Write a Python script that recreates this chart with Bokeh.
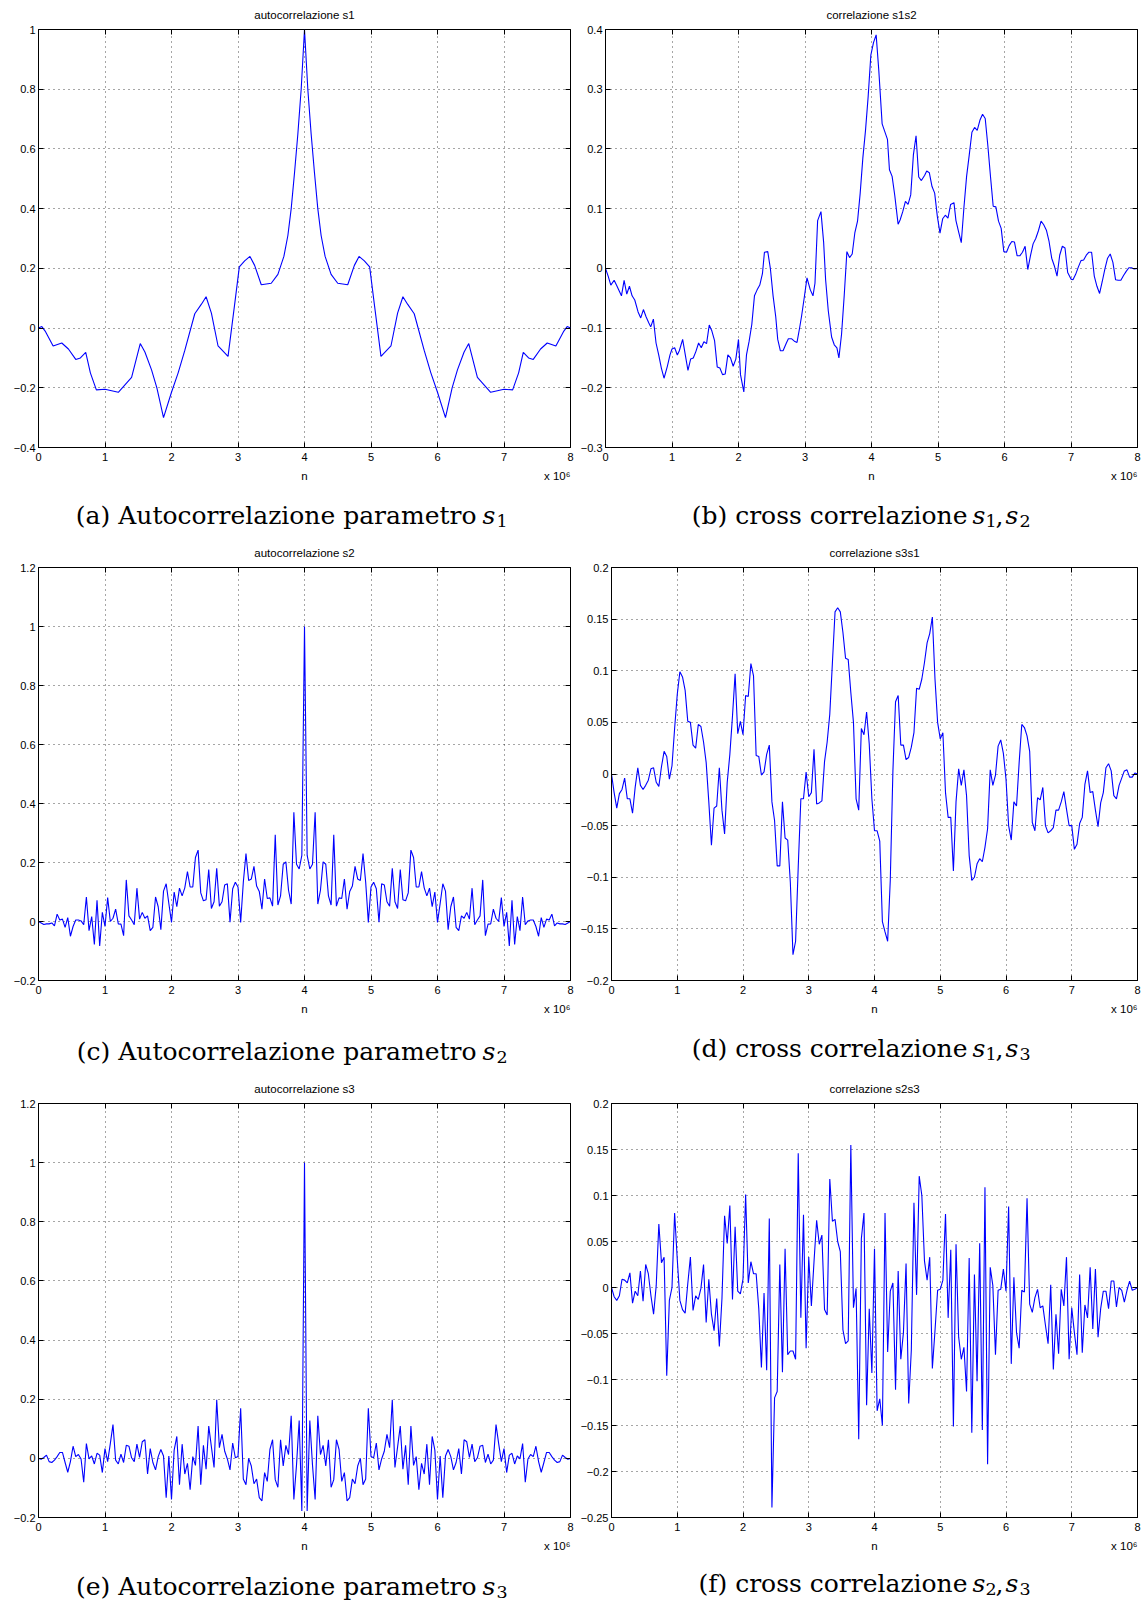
import numpy as np
from bokeh.plotting import figure
from bokeh.models import Range1d, FixedTicker, CustomJSTickFormatter, LinearAxis
from bokeh.layouts import column, row
from bokeh.embed import file_html
from bokeh.resources import INLINE
from bokeh.core.properties import value

# ---------------- data (n in units of 10^6) ----------------
x_ticks = [0, 1, 2, 3, 4, 5, 6, 7, 8]

# (a) autocorrelazione s1
a_n = [0.0, 0.05, 0.1, 0.22, 0.35, 0.45, 0.56, 0.63, 0.71, 0.78, 0.87, 1.0, 1.1, 1.2, 1.3,
       1.4, 1.53, 1.6, 1.7, 1.78, 1.88, 2.0, 2.1, 2.2, 2.35, 2.45, 2.52, 2.6, 2.7, 2.85, 2.95,
       3.02, 3.1, 3.18, 3.25, 3.35, 3.5, 3.6, 3.69, 3.75, 3.8, 3.85, 3.9, 3.95, 4.0,
       4.05, 4.1, 4.15, 4.2, 4.25, 4.31, 4.4, 4.5, 4.65, 4.75, 4.82, 4.9, 4.98, 5.05, 5.15,
       5.3, 5.4, 5.48, 5.55, 5.65, 5.8, 5.9, 6.0, 6.12, 6.22, 6.3, 6.4, 6.47, 6.6, 6.7, 6.8,
       6.9, 7.0, 7.13, 7.22, 7.29, 7.37, 7.44, 7.55, 7.65, 7.78, 7.9, 7.95, 8.0]
a_v = [0.0, 0.005, -0.01, -0.06, -0.05, -0.07, -0.105, -0.1, -0.081, -0.15, -0.207, -0.205,
       -0.21, -0.215, -0.19, -0.165, -0.052, -0.08, -0.14, -0.2, -0.30, -0.215, -0.15, -0.075,
       0.048, 0.08, 0.105, 0.05, -0.06, -0.095, 0.08, 0.205, 0.225, 0.24, 0.21, 0.145, 0.15,
       0.18, 0.24, 0.31, 0.40, 0.52, 0.65, 0.80, 1.0,
       0.80, 0.65, 0.52, 0.40, 0.31, 0.24, 0.18, 0.15, 0.145, 0.21, 0.24, 0.225, 0.205, 0.08,
       -0.095, -0.06, 0.05, 0.105, 0.08, 0.048, -0.075, -0.15, -0.215, -0.30, -0.2, -0.14,
       -0.08, -0.052, -0.165, -0.19, -0.215, -0.21, -0.205, -0.207, -0.15, -0.081, -0.1,
       -0.105, -0.07, -0.05, -0.06, -0.01, 0.005, 0.0]

# (b) correlazione s1s2
b_n = [0.0, 0.04, 0.08, 0.13, 0.17, 0.24, 0.28, 0.32, 0.36, 0.4,
       0.44, 0.49, 0.53, 0.57, 0.61, 0.65, 0.68, 0.72, 0.76, 0.8,
       0.84, 0.88, 0.93, 0.97, 1.0, 1.04, 1.08, 1.11, 1.16, 1.2,
       1.24, 1.28, 1.32, 1.36, 1.4, 1.44, 1.48, 1.52, 1.56, 1.6,
       1.64, 1.68, 1.72, 1.76, 1.8, 1.84, 1.88, 1.92, 1.96, 2.0,
       2.03, 2.08, 2.12, 2.16, 2.2, 2.24, 2.28, 2.32, 2.36, 2.39,
       2.44, 2.48, 2.52, 2.56, 2.59, 2.63, 2.67, 2.72, 2.75, 2.8,
       2.84, 2.88, 2.92, 2.95, 2.99, 3.03, 3.08, 3.12, 3.15, 3.19,
       3.24, 3.28, 3.31, 3.35, 3.4, 3.44, 3.48, 3.51, 3.55, 3.59,
       3.63, 3.67, 3.71, 3.75, 3.79, 3.83, 3.87, 3.91, 3.95, 3.99,
       4.03, 4.07, 4.11, 4.16, 4.2, 4.24, 4.27, 4.31, 4.35, 4.4,
       4.43, 4.47, 4.51, 4.55, 4.59, 4.63, 4.67, 4.71, 4.75, 4.8,
       4.83, 4.87, 4.91, 4.95, 4.99, 5.03, 5.07, 5.11, 5.15, 5.19,
       5.24, 5.27, 5.31, 5.35, 5.39, 5.43, 5.47, 5.51, 5.55, 5.59,
       5.63, 5.67, 5.71, 5.75, 5.79, 5.83, 5.87, 5.91, 5.95, 5.99,
       6.03, 6.07, 6.11, 6.15, 6.19, 6.23, 6.27, 6.31, 6.35, 6.39,
       6.43, 6.47, 6.51, 6.55, 6.59, 6.63, 6.67, 6.71, 6.75, 6.79,
       6.83, 6.87, 6.91, 6.95, 7.0, 7.03, 7.07, 7.11, 7.15, 7.19,
       7.23, 7.27, 7.31, 7.35, 7.39, 7.43, 7.47, 7.51, 7.55, 7.59,
       7.63, 7.67, 7.71, 7.75, 7.79, 7.83, 7.87, 7.91, 7.95, 8.0]
b_v = [0.0, -0.013, -0.028, -0.02, -0.029, -0.046, -0.02, -0.043, -0.03, -0.046,
       -0.053, -0.073, -0.083, -0.069, -0.081, -0.091, -0.098, -0.085, -0.125, -0.145,
       -0.167, -0.184, -0.164, -0.145, -0.135, -0.133, -0.145, -0.138, -0.119, -0.145,
       -0.171, -0.152, -0.15, -0.139, -0.125, -0.133, -0.123, -0.126, -0.095, -0.105,
       -0.121, -0.165, -0.167, -0.178, -0.177, -0.145, -0.15, -0.164, -0.152, -0.119,
       -0.178, -0.207, -0.145, -0.122, -0.094, -0.046, -0.036, -0.028, -0.009, 0.027,
       0.028, -0.001, -0.046, -0.081, -0.119, -0.138, -0.138, -0.125, -0.118, -0.118,
       -0.122, -0.124, -0.099, -0.079, -0.048, -0.016, -0.036, -0.046, -0.025, 0.08,
       0.095, 0.044, -0.019, -0.071, -0.115, -0.128, -0.133, -0.15, -0.11, -0.045,
       0.028, 0.018, 0.024, 0.06, 0.079, 0.126, 0.185, 0.231, 0.288, 0.357,
       0.378, 0.391, 0.331, 0.242, 0.229, 0.216, 0.165, 0.154, 0.122, 0.074,
       0.081, 0.095, 0.112, 0.107, 0.123, 0.19, 0.222, 0.153, 0.147, 0.156,
       0.163, 0.16, 0.137, 0.126, 0.087, 0.059, 0.083, 0.089, 0.084, 0.107,
       0.11, 0.08, 0.061, 0.043, 0.102, 0.154, 0.19, 0.228, 0.236, 0.231,
       0.248, 0.258, 0.251, 0.205, 0.153, 0.104, 0.103, 0.079, 0.067, 0.028,
       0.027, 0.038, 0.045, 0.044, 0.021, 0.021, 0.027, 0.037, -0.002, 0.021,
       0.041, 0.05, 0.063, 0.079, 0.073, 0.064, 0.045, 0.017, 0.004, -0.013,
       0.022, 0.037, 0.034, -0.007, -0.018, -0.019, -0.01, 0.002, 0.013, 0.014,
       0.022, 0.027, 0.027, -0.013, -0.03, -0.042, -0.022, -0.001, 0.017, 0.024,
       0.01, -0.019, -0.02, -0.02, -0.012, -0.005, 0.001, 0.001, -0.001, 0.0]

# (c) autocorrelazione s2 (uniform lag grid, 201 samples over 0..8)
c_v = [0.0, -0.005, -0.01, -0.008, -0.008, -0.005, -0.015, 0.025, 0.005, 0.008,
       -0.02, 0.013, -0.05, -0.017, 0.005, 0.005, 0.002, -0.011, 0.083, -0.031,
       0.017, -0.078, 0.072, -0.083, 0.031, -0.017, 0.081, 0.0, 0.011, 0.042,
       -0.008, -0.009, -0.048, 0.141, 0.019, 0.005, -0.011, 0.113, 0.008, 0.031,
       0.011, 0.019, -0.031, -0.02, 0.083, 0.05, -0.028, 0.103, 0.128, 0.061,
       -0.003, 0.1, 0.05, 0.113, 0.087, 0.114, 0.169, 0.117, 0.117, 0.217,
       0.242, 0.097, 0.07, 0.074, 0.176, 0.044, 0.067, 0.18, 0.052, 0.067,
       0.124, 0.128, -0.002, 0.111, 0.133, 0.117, -0.003, 0.133, 0.23, 0.139,
       0.144, 0.187, 0.12, 0.102, 0.042, 0.144, 0.078, 0.08, 0.052, 0.294,
       0.056, 0.087, 0.194, 0.202, 0.106, 0.059, 0.37, 0.194, 0.178, 0.224,
       1.0,
       0.224, 0.178, 0.194, 0.37, 0.059, 0.106, 0.202, 0.194, 0.087, 0.056,
       0.294, 0.052, 0.08, 0.078, 0.144, 0.042, 0.102, 0.12, 0.187, 0.144,
       0.139, 0.23, 0.133, -0.003, 0.117, 0.133, 0.111, -0.002, 0.128, 0.124,
       0.067, 0.052, 0.18, 0.067, 0.044, 0.176, 0.074, 0.07, 0.097, 0.242,
       0.217, 0.117, 0.117, 0.169, 0.114, 0.087, 0.113, 0.05, 0.1, -0.003,
       0.061, 0.128, 0.103, -0.028, 0.05, 0.083, -0.02, -0.031, 0.019, 0.011,
       0.031, 0.008, 0.113, -0.011, 0.005, 0.019, 0.141, -0.048, -0.009, -0.008,
       0.042, 0.011, 0.0, 0.081, -0.017, 0.031, -0.083, 0.072, -0.078, 0.017,
       -0.031, 0.083, -0.011, 0.002, 0.005, 0.005, -0.017, -0.05, 0.013, -0.02,
       0.008, 0.005, 0.025, -0.015, -0.005, -0.008, -0.008, -0.01, -0.005, 0.0]

# (d) correlazione s3s1
d_v = [0.0, -0.018, -0.033, -0.019, -0.015, -0.004, -0.024, -0.024, -0.038, -0.013,
       0.006, -0.011, -0.015, -0.011, -0.006, 0.005, 0.006, -0.008, -0.012, 0.007,
       0.022, 0.017, -0.005, 0.008, 0.044, 0.077, 0.099, 0.094, 0.081, 0.051,
       0.05, 0.028, 0.025, 0.048, 0.046, 0.031, 0.011, -0.027, -0.069, -0.033,
       -0.031, 0.006, -0.035, -0.058, -0.008, 0.019, 0.056, 0.097, 0.039, 0.051,
       0.038, 0.076, 0.075, 0.107, 0.095, 0.018, 0.017, -0.001, 0.002, 0.019,
       0.028, -0.027, -0.045, -0.089, -0.089, -0.027, -0.062, -0.064, -0.105, -0.175,
       -0.162, -0.09, -0.024, -0.024, 0.002, -0.022, -0.018, 0.024, -0.029, -0.028,
       -0.026, 0.012, 0.031, 0.058, 0.108, 0.157, 0.161, 0.157, 0.137, 0.112,
       0.111, 0.079, 0.05, -0.024, -0.035, 0.044, 0.038, 0.06, 0.029, -0.024,
       -0.055,
       -0.055, -0.065, -0.143, -0.153, -0.162, -0.103, 0.003, 0.07, 0.076, 0.028,
       0.028, 0.014, 0.016, 0.026, 0.04, 0.083, 0.082, 0.092, 0.108, 0.127,
       0.136, 0.152, 0.092, 0.05, 0.034, 0.04, -0.018, -0.042, -0.042, -0.094,
       -0.027, 0.005, -0.011, 0.004, -0.021, -0.079, -0.103, -0.1, -0.087, -0.082,
       -0.085, -0.071, -0.053, 0.004, -0.011, -0.001, 0.027, 0.033, 0.02, -0.005,
       -0.05, -0.064, -0.027, -0.031, 0.011, 0.048, 0.045, 0.037, 0.022, -0.047,
       -0.055, -0.023, -0.025, -0.013, -0.05, -0.057, -0.055, -0.052, -0.035, -0.035,
       -0.027, -0.017, -0.034, -0.05, -0.05, -0.073, -0.068, -0.048, -0.042, -0.01,
       0.003, -0.018, -0.017, -0.035, -0.051, -0.028, -0.018, 0.006, 0.01, 0.003,
       -0.021, -0.024, -0.011, -0.004, 0.003, 0.004, -0.003, -0.003, 0.001, 0.0]

# (e) autocorrelazione s3
e_v = [0.0, -0.003, 0.003, 0.011, -0.011, -0.014, -0.006, 0.006, 0.02, 0.02,
       -0.014, -0.047, -0.011, 0.041, 0.006, 0.013, -0.002, -0.081, 0.05, -0.002,
       0.008, -0.019, 0.017, 0.011, -0.048, 0.033, -0.011, 0.05, 0.114, -0.006,
       -0.019, 0.014, -0.014, 0.044, 0.041, 0.002, -0.011, 0.048, 0.003, 0.056,
       0.063, -0.053, 0.033, -0.014, -0.039, 0.006, 0.03, 0.008, -0.133, 0.008,
       -0.139, 0.028, 0.074, -0.089, 0.048, -0.053, -0.017, -0.106, 0.006, -0.024,
       0.109, -0.089, 0.044, -0.037, 0.109, 0.039, -0.031, 0.198, 0.036, 0.081,
       0.024, -0.002, -0.039, 0.052, 0.002, 0.006, 0.169, -0.07, -0.089, 0.0,
       -0.026, -0.086, -0.07, -0.133, -0.144, -0.048, -0.078, 0.03, 0.063, -0.072,
       -0.098, 0.063, -0.026, 0.044, 0.013, 0.144, -0.139, -0.022, 0.128, -0.178,
       1.0,
       -0.178, 0.128, -0.022, -0.139, 0.144, 0.013, 0.044, -0.026, 0.063, -0.098,
       -0.072, 0.063, 0.03, -0.078, -0.048, -0.144, -0.133, -0.07, -0.086, -0.026,
       0.0, -0.089, -0.07, 0.169, 0.006, 0.002, 0.052, -0.039, -0.002, 0.024,
       0.081, 0.036, 0.198, -0.031, 0.039, 0.109, -0.037, 0.044, -0.089, 0.109,
       -0.024, 0.006, -0.106, -0.017, -0.053, 0.048, -0.089, 0.074, 0.028, -0.139,
       0.008, -0.133, 0.008, 0.03, 0.006, -0.039, -0.014, 0.033, -0.053, 0.063,
       0.056, 0.003, 0.048, -0.011, 0.002, 0.041, 0.044, -0.014, 0.014, -0.019,
       -0.006, 0.114, 0.05, -0.011, 0.033, -0.048, 0.011, 0.017, -0.019, 0.008,
       -0.002, 0.05, -0.081, -0.002, 0.013, 0.006, 0.041, -0.011, -0.047, -0.014,
       0.02, 0.02, 0.006, -0.006, -0.014, -0.011, 0.011, 0.003, -0.003, 0.0]

# (f) correlazione s2s3
f_v = [0.0, -0.01, -0.014, -0.009, 0.009, 0.008, 0.005, 0.016, -0.017, -0.004,
       -0.009, 0.018, -0.015, 0.025, 0.015, -0.009, -0.029, 0.002, 0.069, 0.027,
       0.033, -0.096, -0.014, 0.0, 0.081, 0.031, -0.014, -0.024, -0.028, 0.004,
       0.033, -0.025, -0.009, -0.013, -0.001, 0.025, -0.038, 0.009, -0.029, -0.047,
       -0.012, -0.064, -0.012, 0.078, 0.048, 0.089, -0.013, 0.066, -0.004, -0.007,
       0.009, 0.101, 0.005, 0.028, 0.015, 0.015, -0.023, -0.087, -0.006, -0.09,
       0.075, -0.239, -0.12, -0.113, 0.025, -0.092, 0.042, -0.073, -0.069, -0.069,
       -0.078, 0.146, -0.033, 0.079, -0.066, 0.033, -0.02, 0.028, 0.073, 0.047,
       0.057, -0.024, -0.03, 0.118, 0.072, 0.074, 0.05, 0.039, -0.046, -0.061,
       -0.058, 0.155, -0.022, -0.001, -0.165, 0.053, 0.081, -0.128, -0.023, -0.093,
       0.042, -0.134, -0.121, -0.15, 0.081, -0.07, -0.004, 0.005, -0.111, 0.018,
       -0.078, -0.049, 0.026, -0.126, -0.068, 0.092, -0.008, 0.121, 0.1, 0.029,
       0.008, 0.033, -0.088, -0.047, -0.003, -0.002, 0.008, 0.08, -0.033, 0.041,
       -0.151, 0.047, -0.054, -0.078, -0.065, -0.113, 0.032, -0.158, 0.014, -0.102,
       0.048, -0.155, 0.109, -0.192, 0.022, 0.002, -0.073, -0.003, -0.002, 0.02,
       -0.004, 0.088, -0.083, 0.011, -0.049, -0.066, -0.003, -0.005, 0.097, -0.018,
       -0.027, -0.011, -0.002, -0.022, -0.02, -0.041, -0.061, 0.003, -0.089, -0.029,
       -0.072, -0.002, -0.02, 0.033, -0.078, -0.022, -0.049, -0.073, 0.014, -0.071,
       -0.019, -0.033, 0.022, -0.045, 0.02, -0.054, -0.023, -0.004, -0.004, -0.023,
       0.007, 0.007, -0.021, 0.0, -0.003, -0.016, -0.003, 0.007, -0.003, -0.002,
       0.0]

a_yticks = [-0.4, -0.2, 0, 0.2, 0.4, 0.6, 0.8, 1.0]
b_yticks = [-0.3, -0.2, -0.1, 0, 0.1, 0.2, 0.3, 0.4]
c_yticks = [-0.2, 0, 0.2, 0.4, 0.6, 0.8, 1.0, 1.2]
d_yticks = [-0.2, -0.15, -0.1, -0.05, 0, 0.05, 0.1, 0.15, 0.2]
e_yticks = [-0.2, 0, 0.2, 0.4, 0.6, 0.8, 1.0, 1.2]
f_yticks = [-0.25, -0.2, -0.15, -0.1, -0.05, 0, 0.05, 0.1, 0.15, 0.2]

titles = ["autocorrelazione s1", "correlazione s1s2", "autocorrelazione s2",
          "correlazione s3s1", "autocorrelazione s3", "correlazione s2s3"]
x_label = "n"
x_scale_label = "x 10\u2076"

# ---------------- styling ----------------
SANS = "Liberation Sans"
SERIF = "DejaVu Serif"
SMALL = "11.5px"
TICKF = "11px"

YFMT = r"""
if (Math.abs(tick) < 1e-9) { return "0"; }
var s = String(parseFloat(tick.toFixed(3)));
return s.replace("-", "\u2212");
"""
XFMT = "return String(Math.round(tick));"
NOFMT = "return '';"
NFMT = "return (Math.abs(tick - 4) < 0.01) ? LBL_N : LBL_S;"


def panel(title, xs, ys, yticks, width, bl, br, bt, bb, height=490):
    p = figure(width=width, height=height,
               x_range=Range1d(0, 8), y_range=Range1d(yticks[0], yticks[-1]),
               output_backend="svg", toolbar_location=None, tools="",
               min_border_left=bl, min_border_right=br,
               min_border_top=bt, min_border_bottom=bb,
               background_fill_color="white", border_fill_color="white")
    p.outline_line_color = "black"
    p.outline_line_width = 1
    p.outline_line_alpha = 1.0

    p.line(xs, ys, line_color="#0000ff", line_width=1.1)

    xa = p.xaxis[0]
    xa.ticker = FixedTicker(ticks=x_ticks)
    xa.formatter = CustomJSTickFormatter(code=XFMT)

    ya = p.yaxis[0]
    ya.ticker = FixedTicker(ticks=yticks)
    ya.formatter = CustomJSTickFormatter(code=YFMT)

    for ax in (xa, ya):
        ax.major_tick_in = 5
        ax.major_tick_out = 0
        ax.minor_tick_line_color = None
        ax.axis_line_color = "black"
        ax.major_tick_line_color = "black"
        ax.major_label_text_font = SANS
        ax.major_label_text_font_size = TICKF
        ax.major_label_text_color = "black"
        ax.major_label_standoff = 3
    xa.major_label_standoff = 5

    # second row under the tick labels: "n" in the middle, "x 10^6" at the right end
    lab = LinearAxis(ticker=FixedTicker(ticks=[4, 7.8]),
                     formatter=CustomJSTickFormatter(code=NFMT,
                                                     args=dict(LBL_N=x_label, LBL_S=x_scale_label)),
                     major_tick_line_color=None, minor_tick_line_color=None,
                     axis_line_color=None, major_label_standoff=0,
                     major_label_text_font=SANS, major_label_text_font_size=SMALL,
                     major_label_text_color="black")
    p.add_layout(lab, "below")

    # top side: inner ticks + the small title as axis label
    top = LinearAxis(ticker=FixedTicker(ticks=x_ticks), formatter=CustomJSTickFormatter(code=NOFMT),
                     major_tick_in=5, major_tick_out=0, minor_tick_line_color=None,
                     axis_line_color=None, major_label_text_font_size="1px",
                     major_label_standoff=0, major_tick_line_color="black",
                     axis_label=title, axis_label_standoff=9,
                     axis_label_text_font=SANS, axis_label_text_font_size=SMALL,
                     axis_label_text_font_style="normal", axis_label_text_color="black")
    right = LinearAxis(ticker=FixedTicker(ticks=yticks), formatter=CustomJSTickFormatter(code=NOFMT),
                       major_tick_in=5, major_tick_out=0, minor_tick_line_color=None,
                       axis_line_color=None, major_label_text_font_size="1px",
                       major_label_standoff=0, major_tick_line_color="black")
    p.add_layout(top, "above")
    p.add_layout(right, "right")

    for g, tk in ((p.xgrid[0], x_ticks), (p.ygrid[0], yticks)):
        g.ticker = FixedTicker(ticks=tk)
        g.grid_line_color = "black"
        g.grid_line_alpha = 0.7
        g.grid_line_dash = "1 4"
        g.grid_line_width = 1
    return p


def caption(items, height=45):
    c = figure(width=1148, height=height, x_range=Range1d(0, 1148), y_range=Range1d(height, 0),
               x_axis_type=None, y_axis_type=None, output_backend="svg",
               toolbar_location=None, tools="", min_border=0,
               outline_line_color=None, background_fill_color="white",
               border_fill_color="white")
    for (x, y, txt, size, style, align) in items:
        c.text(x=[x], y=[y], text=[txt], text_font=value(SERIF), text_font_size=size,
               text_font_style=style, text_align=align, text_baseline="alphabetic",
               text_color="black")
    return c


def left_caption(letter, sub, y):
    return [(476, y, "(%s) Autocorrelazione parametro" % letter, "25px", "normal", "right"),
            (482, y, "s", "25px", "italic", "left"),
            (496, y + 5, sub, "17.5px", "normal", "left")]


def right_caption(letter, sub1, sub2, y):
    return [(967, y, "(%s) cross correlazione" % letter, "25px", "normal", "right"),
            (972, y, "s", "25px", "italic", "left"),
            (985, y + 5, sub1, "17.5px", "normal", "left"),
            (995, y, ",", "25px", "normal", "left"),
            (1005, y, "s", "25px", "italic", "left"),
            (1019, y + 5, sub2, "17.5px", "normal", "left")]


def grid_of(vals):
    return list(np.linspace(0, 8, len(vals)))


pa = panel(titles[0], a_n, a_v, a_yticks, 576, 38, 6, 29, 43)
pb = panel(titles[1], b_n, b_v, b_yticks, 572, 29, 11, 29, 43)
pc = panel(titles[2], grid_of(c_v), c_v, c_yticks, 576, 38, 6, 28, 42)
pd = panel(titles[3], grid_of(d_v), d_v, d_yticks, 572, 35, 11, 32, 45)
pe = panel(titles[4], grid_of(e_v), e_v, e_yticks, 576, 38, 6, 30, 40)
pf = panel(titles[5], grid_of(f_v), f_v, f_yticks, 572, 35, 11, 33, 43)

cap1 = caption(left_caption("a", "1", 25) + right_caption("b", "1", "2", 25))
cap2 = caption(left_caption("c", "2", 26) + right_caption("d", "1", "3", 23))
cap3 = caption(left_caption("e", "3", 26) + right_caption("f", "2", "3", 23))

layout = column(row(pa, pb), cap1, row(pc, pd), cap2, row(pe, pf), cap3)

open("out.html", "w").write(file_html(layout, INLINE))
